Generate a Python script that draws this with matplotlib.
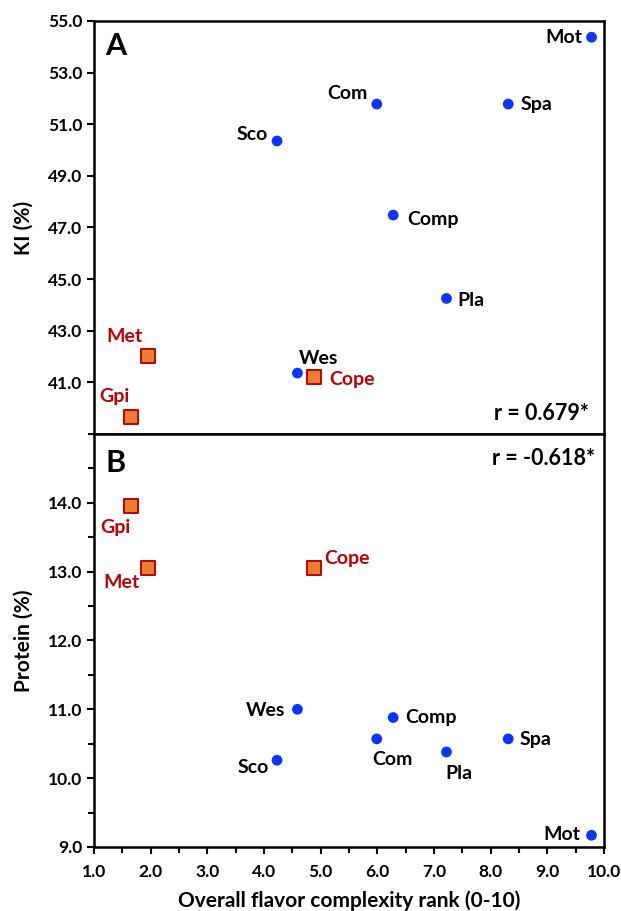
import matplotlib
matplotlib.use('Agg')
import matplotlib.pyplot as plt
from matplotlib.ticker import MultipleLocator, FormatStrFormatter

plt.rcParams['font.family'] = ['Lato', 'DejaVu Sans']
plt.rcParams['font.weight'] = 'bold'

# beers: flavor complexity rank, KI (%), protein (%)
names = ['Mot', 'Com', 'Spa', 'Sco', 'Comp', 'Pla', 'Wes', 'Cope', 'Met', 'Gpi']
flavor = [9.78, 5.99, 8.31, 4.23, 6.28, 7.22, 4.59, 4.88, 1.96, 1.66]
ki = [54.37, 51.78, 51.78, 50.35, 47.48, 44.25, 41.36, 41.22, 42.03, 39.66]
protein = [9.17, 10.57, 10.57, 10.26, 10.88, 10.38, 11.0, 13.05, 13.05, 13.95]
special = ['Cope', 'Met', 'Gpi']
r_ki = 'r = 0.679*'
r_prot = 'r = -0.618*'

BLUE = '#0A35FF'
ORANGE = '#ED7D31'
DARKRED = '#C00000'

# label offsets in pixels (dx, dy, ha)
off_a = {
  'Mot': (-9, 0, 'right'), 'Com': (-9, 11, 'right'), 'Spa': (12, 0, 'left'),
  'Sco': (-9, 6, 'right'), 'Comp': (14, -4, 'left'), 'Pla': (11, -2, 'left'),
  'Wes': (1, 15, 'left'), 'Cope': (15, -3, 'left'), 'Met': (-24, 19, 'center'),
  'Gpi': (-17, 20, 'center'),
}
off_b = {
  'Mot': (-11, 1, 'right'), 'Com': (16, -21, 'center'), 'Spa': (11, -1, 'left'),
  'Sco': (-8, -7, 'right'), 'Comp': (12, 0, 'left'), 'Pla': (12, -22, 'center'),
  'Wes': (-12, -1, 'right'), 'Cope': (10, 10, 'left'), 'Met': (-27, -14, 'center'),
  'Gpi': (-16, -21, 'center'),
}

fig = plt.figure(figsize=(6.21, 9.11), dpi=100)
ax1 = fig.add_axes([0.1514, 0.5236, 0.8212, 0.4534])
ax2 = fig.add_axes([0.1514, 0.0703, 0.8212, 0.4533], sharex=ax1)


def draw(ax, yvals, offs):
  for n, x, y in zip(names, flavor, yvals):
    if n in special:
      ax.scatter(x, y, marker='s', s=90, c=ORANGE, edgecolors=DARKRED,
                 linewidths=1.4, zorder=3)
      col = DARKRED
    else:
      ax.scatter(x, y, marker='o', s=60, c=BLUE, edgecolors='none', zorder=3)
      col = 'black'
    dx, dy, ha = offs[n]
    ax.annotate(n, (x, y), xytext=(dx, dy), textcoords='offset pixels',
                ha=ha, va='center', fontsize=14, fontweight='bold', color=col)
  for s in ax.spines.values():
    s.set_linewidth(1.8)
  ax.tick_params(which='both', direction='out', width=1.5, labelsize=12.5)
  ax.tick_params(which='major', length=5)
  ax.tick_params(which='minor', length=4)


draw(ax1, ki, off_a)
draw(ax2, protein, off_b)

ax1.set_xlim(1.0, 10.0)
ax2.xaxis.set_major_locator(MultipleLocator(1.0))
ax2.xaxis.set_minor_locator(MultipleLocator(0.5))
ax2.xaxis.set_major_formatter(FormatStrFormatter('%.1f'))
ax2.tick_params(axis='x', pad=7)
ax1.tick_params(axis='x', which='both', bottom=False, labelbottom=False)

ax1.set_ylim(39.0, 55.0)
ax1.set_yticks([41, 43, 45, 47, 49, 51, 53, 55])
ax1.yaxis.set_major_formatter(FormatStrFormatter('%.1f'))

ax2.set_ylim(9.0, 15.0)
ax2.set_yticks([9, 10, 11, 12, 13, 14])
ax2.yaxis.set_minor_locator(MultipleLocator(0.5))
ax2.yaxis.set_major_formatter(FormatStrFormatter('%.1f'))

ax1.set_ylabel('KI (%)', fontsize=15, fontweight='bold', labelpad=10)
ax2.set_ylabel('Protein (%)', fontsize=15, fontweight='bold', labelpad=10)
ax2.set_xlabel('Overall flavor complexity rank (0-10)', fontsize=15,
               fontweight='bold', labelpad=8)

ax1.text(0.022, 0.94, 'A', transform=ax1.transAxes, fontsize=22,
         fontweight='bold', va='center', ha='left')
ax2.text(0.022, 0.93, 'B', transform=ax2.transAxes, fontsize=22,
         fontweight='bold', va='center', ha='left')
ax1.text(0.97, 0.05, r_ki, transform=ax1.transAxes, fontsize=15.5,
         fontweight='bold', ha='right', va='center')
ax2.text(0.982, 0.94, r_prot, transform=ax2.transAxes, fontsize=15.5,
         fontweight='bold', ha='right', va='center')

fig.savefig('out.png', dpi=100)
